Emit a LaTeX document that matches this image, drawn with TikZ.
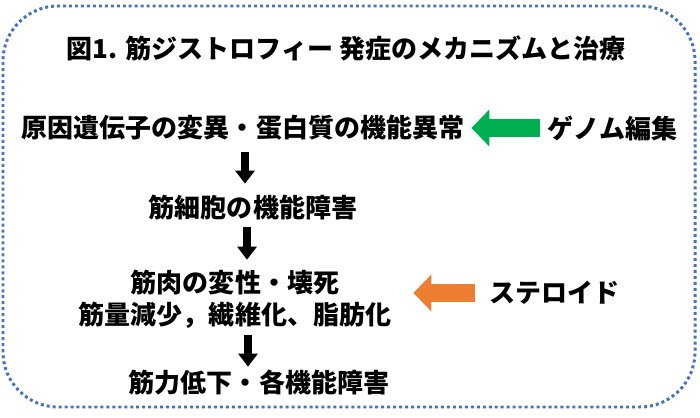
\documentclass[tikz,border=0pt]{standalone}
\usepackage{fontspec}
\newfontfamily\jpfont{Noto Sans CJK JP}
\usetikzlibrary{arrows.meta,positioning,calc}
\definecolor{frameblue}{HTML}{4472C4}
\definecolor{genomegreen}{HTML}{00B050}
\definecolor{steroidorange}{HTML}{ED7D31}
\begin{document}
\begin{tikzpicture}[font=\jpfont\bfseries\fontsize{14.8}{18.4}\selectfont,stage/.style={align=center,inner sep=0,minimum height=0.96cm},down/.style={line width=0.15cm,-{Triangle[length=0.26cm,width=0.38cm]}},treat/.style={line width=0.36cm,-{Triangle[length=0.36cm,width=0.72cm]}}]
\useasboundingbox (0,0) rectangle (14,8.34);
\draw[frameblue,line width=1.7pt,dash pattern=on 1.7pt off 1.7pt,rounded corners=1.1cm] (0.06,0.2) rectangle (13.9,8.22);
\node[stage] (title) at (6.92,7.38) {図1. 筋ジストロフィー 発症のメカニズムと治療};
\node[stage] (cause) at (4.86,5.78) {原因遺伝子の変異・蛋白質の機能異常};
\node[stage] (cell) at (5.06,4.18) {筋細胞の機能障害};
\node[stage,minimum height=1.56cm] (muscle) at (4.70,2.36) {筋肉の変性・壊死\\筋量減少，繊維化、脂肪化};
\node[stage] (weak) at (5.18,0.68) {筋力低下・各機能障害};
\node[stage] (genome) at (12.25,5.78) {ゲノム編集};
\node[stage] (steroid) at (11.09,2.48) {ステロイド};
\draw[down] ([xshift=0.04cm]cause.south) -- ([xshift=0.04cm]cause.south |- cell.north);
\draw[down,shorten <=-0.1cm] ([xshift=-0.12cm]cell.south) -- ([xshift=-0.12cm]cell.south |- muscle.north);
\draw[down,shorten <=-0.06cm,shorten >=-0.16cm] ([xshift=0.26cm]muscle.south) -- ([xshift=0.26cm]muscle.south |- weak.north);
\draw[treat,genomegreen,shorten <=0.16cm,shorten >=0.14cm] (genome.west) -- (cause.east);
\draw[treat,steroidorange,shorten <=0.28cm,shorten >=0.44cm] (steroid.west) -- (steroid.west -| muscle.east);
\end{tikzpicture}
\end{document}
